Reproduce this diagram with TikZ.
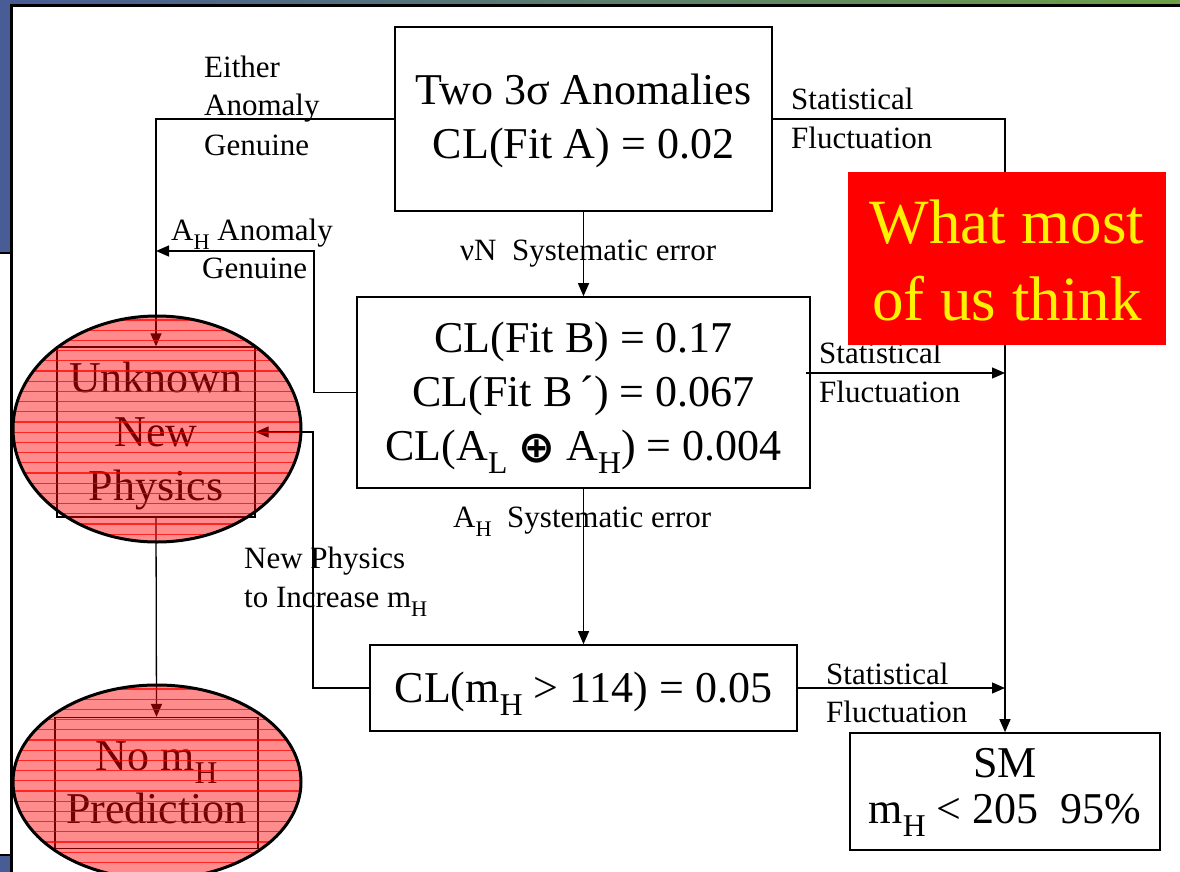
\documentclass[tikz,border=0pt]{standalone}
\usepackage{fontspec}
\setmainfont{Liberation Serif}
\newfontfamily\symbfont{DejaVu Sans Bold}
\usepackage{graphicx}
\usetikzlibrary{arrows.meta,shapes.geometric}
\newcommand{\lowsub}[1]{\raisebox{-0.3em}{\scalebox{0.72}{#1}}}
\newcommand{\circplus}{\raisebox{-2pt}{\symbfont\fontsize{44}{44}\selectfont ⊕}}
\definecolor{slideblue}{RGB}{72,92,150}
\definecolor{slidegreen}{RGB}{110,160,70}
\begin{document}
\begin{tikzpicture}[x=1pt,y=-1pt,
  box/.style={draw, line width=1.6pt, inner sep=0pt, align=center, font=\fontsize{44}{54}\selectfont},
  lbl/.style={inner sep=0pt, anchor=base west, font=\fontsize{31}{38}\selectfont},
  arr/.style={-{Triangle[length=13pt,width=11pt]}, line width=1.3pt},
  innerbox/.style={draw, line width=1.3pt, inner sep=0pt, align=center, font=\fontsize{44}{54}\selectfont},
  blob/.style={ellipse, draw, line width=3pt, fill=red, fill opacity=0.45, inner sep=0pt,
    path picture={\foreach \k in {0,...,24}
      \draw[red, line width=1.1pt, draw opacity=0.75]
        ([yshift=-\k*10.2pt-4pt]path picture bounding box.north west) --
        ([yshift=-\k*10.2pt-4pt]path picture bounding box.north east);}}
]
\useasboundingbox (0,0) rectangle (1180,872);
% slide background
\fill[slideblue] (0,0) rectangle (12,872);
\shade[left color=slideblue, right color=slidegreen] (0,0) rectangle (1180,6);
\fill[white] (12,6) rectangle (1180,872);
\fill[white] (0,253) rectangle (10,855);
\draw[line width=2.5pt] (0,253) -- (10,253);
\draw[line width=2.5pt] (0,855) -- (10,855);
\draw[line width=3pt] (11.5,872) -- (11.5,5.5) -- (1180,5.5);

% boxes
\node (A) [box, minimum width=377pt, minimum height=184pt, text height=84pt, text depth=6pt] at (583.5,119) {Two 3σ Anomalies\\CL(Fit A) = 0.02};
\node (B) [box, minimum width=453pt, minimum height=191pt, text height=138pt, text depth=3pt] at (583.5,392.5) {CL(Fit B) = 0.17\\CL(Fit B\,´) = 0.067\\CL(A\lowsub{L} \circplus\ A\lowsub{H}) = 0.004};
\node (C) [box, minimum width=427pt, minimum height=86pt, text height=30pt, text depth=2pt] at (583.5,688) {CL(m\lowsub{H} > 114) = 0.05};
\node (SM) [box, minimum width=310pt, minimum height=117pt, font=\fontsize{44}{46}\selectfont, text height=75pt, text depth=12pt] at (1005,791.5) {SM\\m\lowsub{H} < 205~~95\%};
\node (r1) [innerbox, minimum width=198pt, minimum height=170pt, text height=138pt, text depth=2pt] at (156,432) {Unknown\\New\\Physics};
\node (r2) [innerbox, minimum width=203pt, minimum height=131pt, font=\fontsize{44}{53}\selectfont, text height=83pt, text depth=3pt] at (156.5,783) {No m\lowsub{H}\\Prediction};

% labels
\node (l1) [lbl] at (204,78) {Either};
\node (l2) [lbl] at (204,116) {Anomaly};
\node (l3) [lbl] at (204,155) {Genuine};
\node (l4) [lbl] at (171,240) {A\lowsub{H} Anomaly};
\node (l5) [lbl] at (202,278) {Genuine};
\node (l6) [lbl] at (791,110) {Statistical};
\node (l7) [lbl] at (791,148) {Fluctuation};
\node (l8) [lbl] at (819,363) {Statistical};
\node (l9) [lbl] at (819,402) {Fluctuation};
\node (l10) [lbl] at (826,684) {Statistical};
\node (l11) [lbl] at (826,722) {Fluctuation};
\node (l12) [lbl] at (244,568) {New Physics};
\node (l13) [lbl] at (244,607) {to Increase m\lowsub{H}};
\node (l14) [lbl] at (460,260) {νN~ Systematic error};
\node (l15) [lbl] at (453,527) {A\lowsub{H}~ Systematic error};

% connector end points
\coordinate (ahend) at (156,251);
\coordinate (f2) at (1005,373);
\coordinate (f3) at (1005,688);

% connectors
\draw[arr] (A.west) -| (r1.north);
\draw[arr] (B.west) -| (314,251) -- (ahend);
\draw[arr] (C.west) -| (313,432) -- (r1.east);
\draw[arr] (r1.south) -- (r2.north);
\draw[arr] (A.south) -- (B.north);
\draw[arr] (B.south) -- (C.north);
\draw[arr] (A.east) -| (SM.north);
\draw[arr] ([xshift=-5pt,yshift=19.5pt]B.east) -- (f2);
\draw[arr] (C.east) -- (f3);

% translucent ellipses
\node (e1) [blob, minimum width=288pt, minimum height=226pt] at (157,429) {};
\node (e2) [blob, minimum width=288pt, minimum height=194pt] at (157,782) {};

% highlight box
\node (think) [fill=red, text=yellow, minimum width=318pt, minimum height=173pt, inner sep=0pt, align=center, font=\fontsize{63}{77}\selectfont, text height=123pt, text depth=0pt] at (1007,258.5) {What most\\of us think};
\end{tikzpicture}
\end{document}
